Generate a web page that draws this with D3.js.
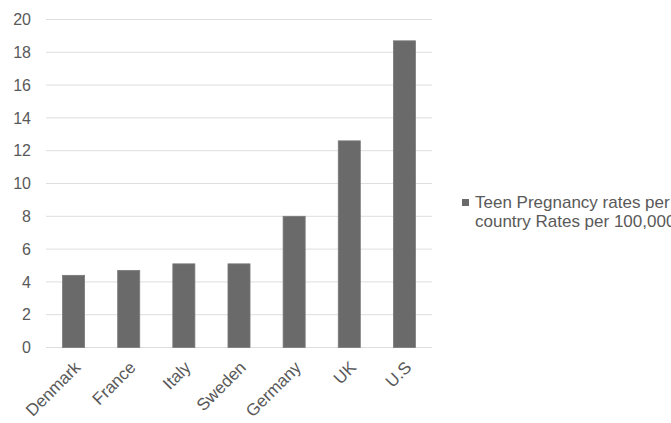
<!DOCTYPE html>
<html><head><meta charset="utf-8">
<script src="https://cdn.jsdelivr.net/npm/d3@7"></script>
<style>body{margin:0;background:#fff;}svg{display:block;}</style>
</head><body>
<script>
const categories = ["Denmark","France","Italy","Sweden","Germany","UK","U.S"];
const values = [4.4,4.7,5.1,5.1,8.0,12.6,18.7];
const yTicks = [0,2,4,6,8,10,12,14,16,18,20];
const legendLines = ["Teen Pregnancy rates per","country Rates per 100,000"];

const W=671,H=423;
const svg=d3.select("body").append("svg").attr("width",W).attr("height",H);
const font="Liberation Sans, Arial, Helvetica, sans-serif";
const x=d3.scaleBand().domain(categories).range([46,432]).paddingInner(0.6).paddingOuter(0.3);
const y=d3.scaleLinear().domain([0,20]).range([347.5,19.5]);

const grid=svg.append("g");
grid.selectAll("line").data(yTicks).join("line")
 .attr("x1",46).attr("x2",432).attr("y1",d=>y(d)).attr("y2",d=>y(d))
 .attr("stroke","#dedede").attr("stroke-width",1);

const yAxis=svg.append("g").attr("transform","translate(46,0)")
 .call(d3.axisLeft(y).tickValues(yTicks).tickSize(0).tickPadding(15));
yAxis.select(".domain").remove();
yAxis.selectAll("text").attr("font-family",font).attr("font-size",16).attr("fill","#595959");

svg.append("g").selectAll("rect").data(values).join("rect")
 .attr("x",(d,i)=>x(categories[i])).attr("width",x.bandwidth())
 .attr("y",d=>y(d)).attr("height",d=>y(0)-y(d))
 .attr("fill","#6a6a6a").attr("stroke","#7a7a7a").attr("stroke-width",0.8);

const xAxis=svg.append("g").attr("transform","translate(0,347.5)")
 .call(d3.axisBottom(x).tickSize(0).tickPadding(0));
xAxis.select(".domain").remove();
xAxis.selectAll("text").attr("font-family",font).attr("font-size",17).attr("fill","#595959")
 .attr("text-anchor","end").attr("dy",0)
 .attr("transform","translate(8,21) rotate(-45)");

const lg=svg.append("g");
lg.append("rect").attr("x",462).attr("y",199).attr("width",7).attr("height",7).attr("fill","#6a6a6a");
lg.selectAll("text").data(legendLines).join("text")
 .attr("x",475).attr("y",(d,i)=>208+i*18.5)
 .attr("font-family",font).attr("font-size",17).attr("fill","#595959").text(d=>d);
</script>
</body></html>
